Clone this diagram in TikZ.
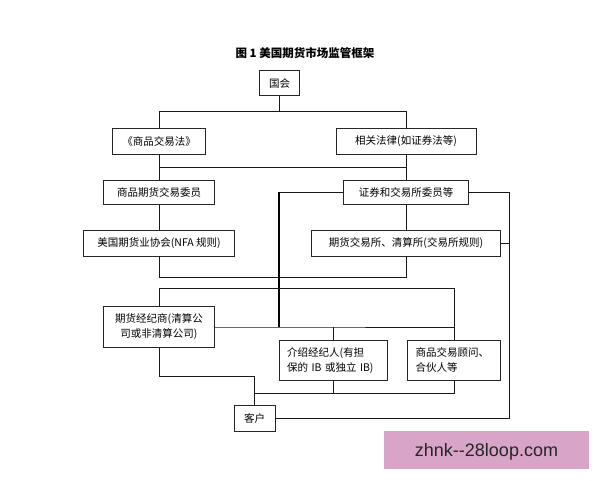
\documentclass[tikz,border=0pt]{standalone}
\usepackage{fontspec}
\setmainfont{Noto Sans CJK SC}
\newfontfamily\wmfont{Liberation Sans}
\definecolor{wmpink}{RGB}{216,164,199}

\begin{document}
\begin{tikzpicture}[
  x=1pt, y=-1pt,
  link/.style={line width=0.8pt, black!90},
  spine/.style={line width=1.3pt, black},
  box/.style={draw=black!85, line width=0.8pt, inner sep=0pt, align=center,
    font=\fontsize{10.5}{15}\selectfont},
  notebox/.style={box, align=left, inner xsep=8pt, minimum height=40.7pt}
]
  % page is 600 x 480, y runs downwards
  \useasboundingbox (0,0) rectangle (600,480);
  \fill[white] (0,0) rectangle (600,480);

  \node[font=\fontsize{11.5}{14}\selectfont\bfseries] (title) at (305,53) {图 1 美国期货市场监管框架};

  \node[box, minimum width=40.7pt, minimum height=25pt] (congress) at (279.5,83.2) {国会};
  \node[box, minimum width=93pt, minimum height=25.7pt] (cea) at (159,141.2) {《商品交易法》};
  \node[box, minimum width=140pt, minimum height=25.7pt] (laws) at (406,141.2) {相关法律(如证券法等)};
  \node[box, minimum width=110.7pt, minimum height=24.3pt] (cftc) at (159,192.2) {商品期货交易委员};
  \node[box, minimum width=125.7pt, minimum height=24.3pt] (sec) at (406,192.2) {证券和交易所委员等};
  \node[box, minimum width=151pt, minimum height=25.3pt] (nfa) at (159,243.3) {美国期货业协会(NFA 规则)};
  \node[box, minimum width=188.3pt, minimum height=25.3pt] (exch) at (406,243.3) {期货交易所、清算所(交易所规则)};
  \node[box, minimum width=110.7pt, minimum height=40.7pt] (fcm) at (159,327) {期货经纪商(清算公\\司或非清算公司)};
  \node[notebox, text width=92.3pt] (ib) at (333.2,360.3) {介绍经纪人(有担\\保的 IB 或独立 IB)};
  \node[notebox, text width=77pt] (cta) at (454.2,360.3) {商品交易顾问、\\合伙人等};
  \node[box, minimum width=41pt, minimum height=26pt] (client) at (254.5,418) {客户};

  \coordinate (split) at (279.5,111.7);
  \coordinate (lawbar) at (159,167);
  \coordinate (rulebar) at (159,277.3);
  \coordinate (firmbar) at (279,288.3);
  \coordinate (hub) at (279,327);
  \coordinate (feed) at (254.5,376);
  \coordinate (merge) at (254.5,393.3);
  \coordinate (back) at (509,418);

  \draw[link] (congress) -- (split);
  \draw[link] (cea) |- (split) -| (laws);
  \draw[link] (cea) -- (cftc);
  \draw[link] (laws) -- (sec);
  \draw[link] (lawbar) -- (lawbar -| sec);
  \draw[link] (cftc) -- (nfa);
  \draw[link] (sec) -- (exch);
  \draw[link] (nfa) -- (rulebar) -| (exch);
  \draw[link] (sec) -- (sec -| hub);
  \draw[spine] (sec -| hub) -- (hub);
  \draw[link] (sec) -| (back) -- (client);
  \draw[link] (exch) -- (exch -| back);
  \draw[link] (fcm) |- (firmbar) -| (cta);
  \draw[link] (fcm) -- (hub) -- (hub -| cta);
  \draw[link] (hub -| ib) -- (ib);
  \draw[link] (fcm) |- (feed) -- (client);
  \draw[link] (ib) |- (merge);
  \draw[link] (cta) |- (merge);

  % watermark
  \fill[wmpink] (384,431) rectangle (589,469.3);
  \node[font=\wmfont\fontsize{18}{20}\selectfont, text=black!85] (mark) at (486.5,451.5) {zhnk-{}-28loop.com};
\end{tikzpicture}
\end{document}
